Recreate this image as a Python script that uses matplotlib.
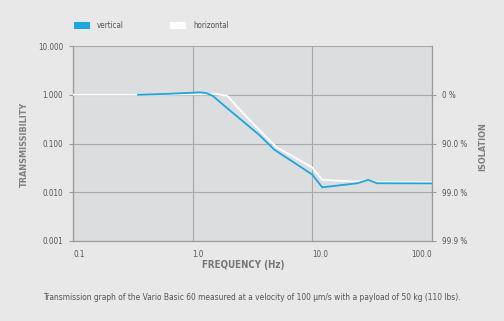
import matplotlib
matplotlib.use("Agg")
import matplotlib.pyplot as plt
from matplotlib.patches import Rectangle

plt.rcParams['font.family'] = ['DejaVu Sans']
plt.rcParams['font.stretch'] = 'condensed'

# data
vert_f = [0.35, 0.6, 1.0, 1.15, 1.3, 1.47, 2.0, 3.6, 4.8, 10.0, 12.1, 23.7, 29.3, 34.7, 100.0]
vert_t = [1.0, 1.04, 1.1, 1.12, 1.08, 0.95, 0.5, 0.15, 0.075, 0.023, 0.0126, 0.0153, 0.018, 0.0153, 0.0152]
horz_f = [0.1, 0.5, 1.0, 1.6, 1.95, 2.3, 3.6, 5.0, 10.0, 12.1, 23.7, 29.3, 34.7, 100.0]
horz_t = [1.0, 1.0, 1.02, 1.02, 0.95, 0.6, 0.19, 0.085, 0.032, 0.018, 0.0165, 0.018, 0.016, 0.016]

x_ticks = [0.1, 1.0, 10.0, 100.0]
x_labels = ['0.1', '1.0', '10.0', '100.0']
y_ticks = [0.001, 0.01, 0.1, 1.0, 10.0]
y_labels = ['0.001', '0.010', '0.100', '1.000', '10.000']
iso_ticks = [0.001, 0.01, 0.1, 1.0]
iso_labels = ['99.9 %', '99.0 %', '90.0 %', '0 %']

bg = '#e8e8e8'
plot_bg = '#dcdddf'
blue = '#1ba7dc'
txt = '#555555'
grid_c = '#a8a8a8'

W, H = 504, 321
fig = plt.figure(figsize=(W / 100, H / 100), dpi=100, facecolor=bg)
ax = fig.add_axes([73 / W, 1 - 241 / H, (432 - 73) / W, (241 - 46) / H])
ax.set_facecolor(plot_bg)
ax.set_xscale('log')
ax.set_yscale('log')
ax.set_xlim(0.1, 100)
ax.set_ylim(0.001, 10)

ax.grid(True, which='major', color=grid_c, lw=0.8)
ax.minorticks_off()
for s in ['left', 'bottom', 'right']:
    ax.spines[s].set_color('#999999')
    ax.spines[s].set_linewidth(0.9)
ax.spines['top'].set_visible(False)

ax.plot(horz_f, horz_t, color='white', lw=1.3, zorder=3)
ax.plot(vert_f, vert_t, color=blue, lw=1.3, zorder=4)

ax.set_yticks(y_ticks)
ax.set_yticklabels(y_labels)
ax.tick_params(axis='y', length=3, color='#999999', labelsize=5.8, labelcolor=txt, pad=4)
ax.set_xticks(x_ticks)
ax.set_xticklabels([])
ax.tick_params(axis='x', length=0)
for xv, lab in zip(x_ticks, x_labels):
    ha = 'right' if xv == 100.0 else 'left'
    ax.text(xv, 0.00053, lab, ha=ha, va='center', fontsize=5.8, color=txt)

ax2 = ax.twinx()
ax2.set_yscale('log')
ax2.set_ylim(0.001, 10)
ax2.set_yticks(iso_ticks)
ax2.set_yticklabels(iso_labels)
ax2.minorticks_off()
ax2.tick_params(axis='y', length=3, color='#999999', labelsize=5.8, labelcolor=txt, pad=4)
for s in ['left', 'bottom', 'right', 'top']:
    ax2.spines[s].set_visible(False)

fig.text(24 / W, 1 - 144 / H, 'TRANSMISSIBILITY', rotation=90, ha='center', va='center',
         fontsize=6.5, fontweight='bold', color='#808080')
fig.text(483 / W, 1 - 147 / H, 'ISOLATION', rotation=90, ha='center', va='center',
         fontsize=6.5, fontweight='bold', color='#808080')
fig.text(243 / W, 1 - 265 / H, 'FREQUENCY (Hz)', ha='center', va='center',
         fontsize=7, fontweight='bold', color='#777777')
fig.text(252 / W, 1 - 298 / H,
         'Transmission graph of the Vario Basic 60 measured at a velocity of 100 \u00b5m/s with a payload of 50 kg (110 lbs).',
         ha='center', va='center', fontsize=6.0, color=txt)

# legend
fig.patches.append(Rectangle((74 / W, 1 - 29 / H), 16 / W, 7 / H, transform=fig.transFigure,
                             facecolor=blue, edgecolor='none'))
fig.text(97 / W, 1 - 25.5 / H, 'vertical', ha='left', va='center', fontsize=5.8, color=txt)
fig.patches.append(Rectangle((170 / W, 1 - 29 / H), 16 / W, 7 / H, transform=fig.transFigure,
                             facecolor='white', edgecolor='none'))
fig.text(193 / W, 1 - 25.5 / H, 'horizontal', ha='left', va='center', fontsize=5.8, color=txt)

fig.savefig('out.png', dpi=100, facecolor=bg)
